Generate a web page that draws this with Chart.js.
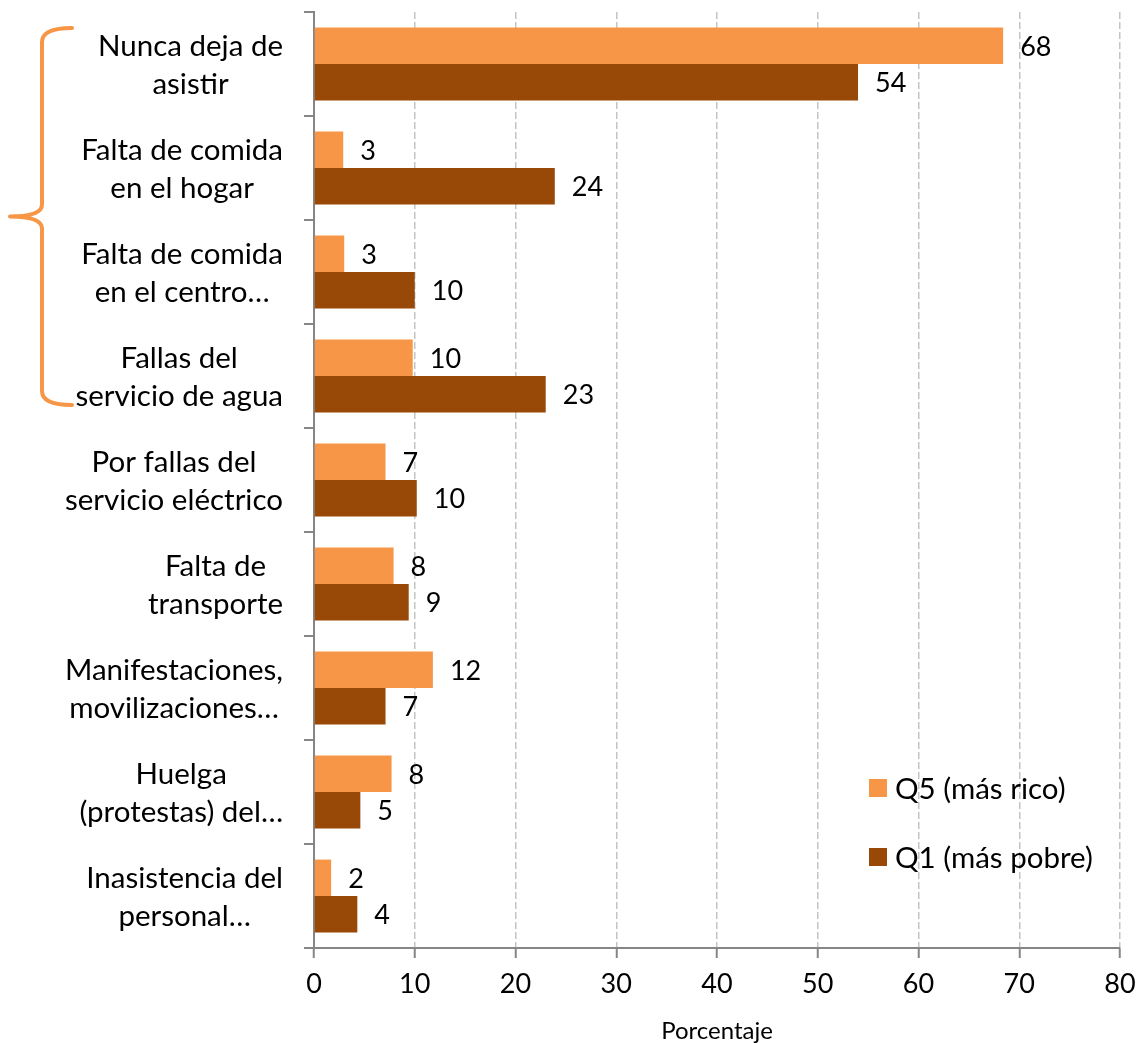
<!DOCTYPE html>
<html>
<head>
<meta charset="utf-8">
<script src="https://cdn.jsdelivr.net/npm/chart.js@4.4.1/dist/chart.umd.min.js"></script>
<style>
  html, body { margin: 0; padding: 0; background: #fff; }
  #wrap { width: 1138px; height: 1043px; }
</style>
</head>
<body>
<div id="wrap"><canvas id="myChart"></canvas></div>
<script>
// Chart data
const categories = [
  ["Nunca deja de", "asistir"],
  ["Falta de comida", "en el hogar"],
  ["Falta de comida", "en el centro…"],
  ["Fallas del", "servicio de agua"],
  ["Por fallas del", "servicio eléctrico"],
  ["Falta de", "transporte"],
  ["Manifestaciones,", "movilizaciones…"],
  ["Huelga", "(protestas) del…"],
  ["Inasistencia del", "personal…"]
];
const q5Values = [68.4, 2.9, 3.0, 9.8, 7.1, 7.9, 11.8, 7.7, 1.7];
const q1Values = [54.0, 23.9, 10.0, 23.0, 10.2, 9.4, 7.1, 4.6, 4.3];
const seriesLabels = ["Q5 (más rico)", "Q1 (más pobre)"];
const axisTitle = "Porcentaje";

const Q5_COLOR = "#F79646";
const Q1_COLOR = "#984807";
const AXIS_COLOR = "#868686";
const FONT = "Lato";
const TEXT_SIZE = 29.5;

Chart.defaults.font.family = FONT;
Chart.defaults.color = "#000";

/**
 * Category labels: lines centred inside a block that sits right of the axis
 */
const categoryLabels = {
  id: "categoryLabels",
  afterDraw(chart) {
    const { ctx } = chart;
    const yScale = chart.scales.y;
    ctx.save();
    ctx.font = `${TEXT_SIZE}px ${FONT}`;
    ctx.fillStyle = "#000";
    ctx.textAlign = "center";
    ctx.textBaseline = "middle";
    categories.forEach((lines, i) => {
      const cy = yScale.getPixelForValue(i);
      const blockW = Math.max(...lines.map(l => ctx.measureText(l).width));
      const cx = yScale.right - 31 - blockW / 2;
      lines.forEach((line, k) => {
        ctx.fillText(line, cx, cy + 1 + (k - (lines.length - 1) / 2) * 38);
      });
    });
    ctx.restore();
  }
};

/**
 * Value labels at the end of each bar
 */
const barValueLabels = {
  id: "barValueLabels",
  afterDatasetsDraw(chart) {
    const { ctx } = chart;
    ctx.save();
    ctx.font = `27px ${FONT}`;
    ctx.fillStyle = "#000";
    ctx.textAlign = "left";
    ctx.textBaseline = "middle";
    chart.data.datasets.forEach((ds, i) => {
      chart.getDatasetMeta(i).data.forEach((bar, j) => {
        ctx.fillText(String(Math.round(ds.data[j])), bar.x + 17, bar.y + 1);
      });
    });
    ctx.restore();
  }
};

/**
 * Legend inside the plot, bottom right
 */
const innerLegend = {
  id: "innerLegend",
  afterDraw(chart) {
    const { ctx, chartArea } = chart;
    ctx.save();
    ctx.font = `${TEXT_SIZE}px ${FONT}`;
    ctx.textAlign = "left";
    ctx.textBaseline = "middle";
    chart.data.datasets.forEach((ds, i) => {
      const x = chartArea.right - 251;
      const y = chartArea.bottom - 169 + i * 69;
      ctx.fillStyle = ds.backgroundColor;
      ctx.fillRect(x, y, 18, 18);
      ctx.fillStyle = "#000";
      ctx.fillText(ds.label, x + 26, y + 10);
    });
    ctx.restore();
  }
};

/**
 * Orange curly bracket grouping the first four categories
 */
const groupBracket = {
  id: "groupBracket",
  afterDraw(chart) {
    const { ctx } = chart;
    const yScale = chart.scales.y;
    const top = yScale.getPixelForValue(0) - 36;
    const bot = yScale.getPixelForValue(3) + 29;
    const mid = (top + bot) / 2;
    const xl = 42, xe = 72, xt = 10;
    ctx.save();
    ctx.strokeStyle = Q5_COLOR;
    ctx.lineWidth = 4;
    ctx.lineCap = "round";
    ctx.lineJoin = "round";
    ctx.beginPath();
    ctx.moveTo(xe, top);
    ctx.quadraticCurveTo(xl, top, xl, top + 14);
    ctx.lineTo(xl, mid - 12);
    ctx.quadraticCurveTo(xl, mid, xt, mid);
    ctx.quadraticCurveTo(xl, mid, xl, mid + 12);
    ctx.lineTo(xl, bot - 14);
    ctx.quadraticCurveTo(xl, bot, xe, bot);
    ctx.stroke();
    ctx.restore();
  }
};

new Chart("myChart", {
  type: "bar",
  data: {
    labels: categories,
    datasets: [
      {
        label: seriesLabels[0],
        data: q5Values,
        backgroundColor: Q5_COLOR,
        categoryPercentage: 0.7,
        barPercentage: 1.0,
      },
      {
        label: seriesLabels[1],
        data: q1Values,
        backgroundColor: Q1_COLOR,
        categoryPercentage: 0.7,
        barPercentage: 1.0,
      },
    ],
  },
  options: {
    indexAxis: "y",
    responsive: true,
    maintainAspectRatio: false,
    animation: false,
    layout: { padding: { top: 12, right: 18, left: 0, bottom: 0 } },
    plugins: {
      legend: { display: false },
      tooltip: { enabled: false },
    },
    scales: {
      x: {
        type: "linear",
        min: 0,
        max: 80,
        ticks: { stepSize: 10, font: { size: 27 }, color: "#000", padding: 10 },
        grid: {
          color: ctx => (ctx.tick && ctx.tick.value === 0 ? "rgba(0,0,0,0)" : "#C4C4C4"),
          lineWidth: 1.5,
          tickLength: 10,
          tickColor: AXIS_COLOR,
          tickWidth: 2,
          tickBorderDash: [],
        },
        border: { color: AXIS_COLOR, width: 2, dash: [7, 3] },
        title: {
          display: true,
          text: axisTitle,
          font: { size: 24 },
          color: "#000",
          padding: { top: 0, bottom: -3 },
        },
        afterFit: scale => {
          scale.height = 95;
          scale.paddingRight = 0;
          scale.paddingLeft = 0;
        },
      },
      y: {
        type: "category",
        offset: true,
        ticks: { display: false },
        grid: {
          offset: true,
          drawOnChartArea: false,
          color: AXIS_COLOR,
          lineWidth: 2,
          tickLength: 10,
        },
        border: { color: AXIS_COLOR, width: 2 },
        afterFit: scale => { scale.width = 314; },
      },
    },
  },
  plugins: [categoryLabels, barValueLabels, innerLegend, groupBracket],
});
</script>
</body>
</html>
